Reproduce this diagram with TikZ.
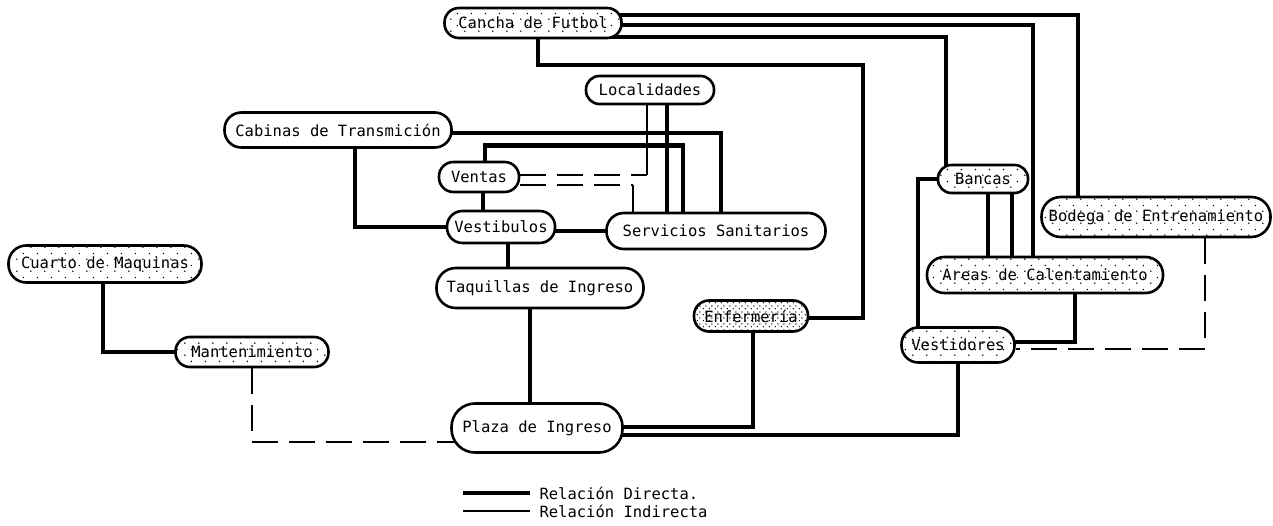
\documentclass[tikz,border=0pt]{standalone}
\usepackage{fontspec}
\setmainfont{DejaVu Sans Mono}
\usetikzlibrary{patterns.meta,backgrounds}

\tikzdeclarepattern{
  name=stipple,
  type=uncolored,
  bounding box={(0pt,0pt) and (14pt,12pt)},
  tile size={(14pt,12pt)},
  code={
    \fill (3pt,3pt) circle (0.9pt);
    \fill (10pt,9pt) circle (0.9pt);
  }
}
\tikzdeclarepattern{
  name=stipple dense,
  type=uncolored,
  bounding box={(0pt,0pt) and (6pt,6pt)},
  tile size={(6pt,6pt)},
  code={
    \fill (1.5pt,1.5pt) circle (0.8pt);
    \fill (4.5pt,4.5pt) circle (0.8pt);
  }
}

\begin{document}
\begin{tikzpicture}[x=1pt,y=-1pt,
    font=\fontsize{15.5}{18}\selectfont,
    area/.style 2 args={rectangle,draw,line width=2.6pt,fill=white,
      rounded corners=#2*0.48pt,minimum width=#1pt,minimum height=#2pt,inner sep=2pt},
    zone/.style={postaction={pattern=stipple}},
    zone dense/.style={postaction={pattern=stipple dense}},
    direct/.style={line width=4.5pt},
    indirect/.style={line width=2pt},
    aside/.style={line width=2.5pt,dash pattern=on 26pt off 11pt}]
    \useasboundingbox (0,0) rectangle (1273,526);

    \node[area={177}{30},zone] (cancha) at (533,23) {Cancha de Futbol};
    \node[area={128}{28}] (local) at (650,90) {Localidades};
    \node[area={227}{35}] (cabinas) at (338,130) {Cabinas de Transmición};
    \node[area={80}{30}] (ventas) at (479,177) {Ventas};
    \node[area={108}{32}] (vestib) at (501,227) {Vestibulos};
    \node[area={219}{36}] (servicios) at (716,231) {Servicios Sanitarios};
    \node[area={207}{40}] (taquillas) at (540,288) {Taquillas de Ingreso};
    \node[area={114}{31},zone dense] (enfermeria) at (751,316) {Enfermería};
    \node[area={171}{49}] (plaza) at (537,428) {Plaza de Ingreso};
    \node[area={193}{37},zone] (cuarto) at (105,264) {Cuarto de Maquinas};
    \node[area={153}{30},zone] (mant) at (252,352) {Mantenimiento};
    \node[area={90}{28},zone] (bancas) at (983,179) {Bancas};
    \node[area={229}{40},zone] (bodega) at (1156,217) {Bodega de Entrenamiento};
    \node[area={236}{36},zone] (areas) at (1045,275) {Areas de Calentamiento};
    \node[area={113}{35},zone] (vestidores) at (958,345) {Vestidores};

    \begin{scope}[on background layer]
    % cancha de futbol
    \draw[direct] ([yshift=8pt]cancha.center) -| ([xshift=-78pt]bodega.center);
    \draw[direct] ([yshift=-2pt]cancha.center) -| ([xshift=-12pt]areas.center);
    \draw[direct] ([yshift=-14pt]cancha.center) -| ([xshift=-37pt]bancas.center);
    \draw[direct] ([xshift=5pt]cancha.center) -- ++(0,42)
        -| ([xshift=112pt,yshift=-2pt]enfermeria.center) -- ([yshift=-2pt]enfermeria.center);

    % bancas, areas, vestidores
    \draw[direct] (bancas.center) -| ([xshift=-40pt]vestidores.center);
    \draw[direct] ([xshift=5pt]bancas.center) -- ([xshift=5pt]bancas.center |- areas.center);
    \draw[direct] ([xshift=29pt]bancas.center) -- ([xshift=29pt]bancas.center |- areas.center);
    \draw[direct] ([xshift=30pt]areas.center) |- ([yshift=3pt]vestidores.center);
    \draw[aside] ([xshift=49pt]bodega.south) |- ([yshift=-4pt]vestidores.east);
    \draw[direct] (vestidores.center) |- ([yshift=-7pt]plaza.center);
    \draw[direct] ([yshift=1pt]plaza.center) -| ([xshift=2pt]enfermeria.center);

    % plaza, taquillas, vestibulos
    \draw[direct] ([xshift=-7pt]plaza.center) -- ([xshift=-7pt]plaza.center |- taquillas.center);
    \draw[direct] ([xshift=7pt]vestib.center) -- ([xshift=7pt]vestib.center |- taquillas.center);
    \draw[direct] ([xshift=4pt]ventas.center) -- ([xshift=4pt]ventas.center |- vestib.center);
    \draw[direct] ([xshift=17pt]cabinas.center) |- (vestib.center);
    \draw[direct] (vestib.center |- servicios.center) -- (servicios.center);

    % servicios sanitarios
    \draw[direct] ([yshift=-3pt]cabinas.center) -| ([xshift=5pt]servicios.center);
    \draw[direct] ([xshift=6pt]ventas.north) -- ++(0,-15) -| ([xshift=-33pt]servicios.center);
    \draw[direct] ([xshift=17pt]local.center) -- ([xshift=17pt]local.center |- servicios.center);

    % ventas, indirect
    \coordinate (vl) at ([xshift=-3pt,yshift=2pt]local.center |- ventas.center);
    \draw[indirect] ([xshift=-3pt]local.center) -- (vl);
    \draw[aside] (ventas.east |- vl) -- (vl);
    \coordinate (vs) at ([xshift=-83pt,yshift=-8pt]servicios.center |- ventas.center);
    \draw[aside] (ventas.east |- vs) -- (vs);
    \draw[indirect] (vs) -- (vs |- servicios.center);

    % maquinas
    \draw[direct] ([xshift=-2pt]cuarto.center) |- (mant.center);
    \draw[aside] (mant.south) |- ([yshift=-14pt]plaza.center);
    \end{scope}

    % legend
    \node[right] (ldirect) at (536,493) {Relación Directa.};
    \node[right] (lindirect) at (536,511) {Relación Indirecta};
    \draw[line width=4pt] ([xshift=-73pt]ldirect.west) -- ([xshift=-6pt]ldirect.west);
    \draw[indirect] ([xshift=-73pt]lindirect.west) -- ([xshift=-6pt]lindirect.west);
\end{tikzpicture}
\end{document}
